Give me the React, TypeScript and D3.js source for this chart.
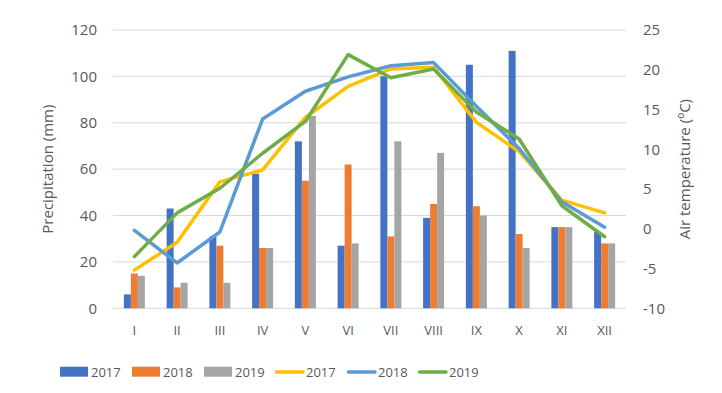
import React from "react";
import * as d3 from "d3";

const months = ["I", "II", "III", "IV", "V", "VI", "VII", "VIII", "IX", "X", "XI", "XII"];
const years = ["2017", "2018", "2019"];

// precipitation (mm)
const precip2017 = [6, 43, 31, 58, 72, 27, 100, 39, 105, 111, 35, 33];
const precip2018 = [15, 9, 27, 26, 55, 62, 31, 45, 44, 32, 35, 28];
const precip2019 = [14, 11, 11, 26, 83, 28, 72, 67, 40, 26, 35, 28];

// air temperature (°C)
const temp2017 = [-5.2, -1.7, 5.9, 7.4, 14, 17.9, 20.1, 20.3, 13.4, 9.7, 3.6, 2.0];
const temp2018 = [-0.2, -4.3, -0.4, 13.8, 17.3, 19.1, 20.5, 20.9, 15.4, 10.1, 3.4, 0.2];
const temp2019 = [-3.5, 2.0, 5.1, 9.5, 13.5, 21.9, 19.0, 20.1, 14.7, 11.3, 2.9, -1.0];

const precipTicks = [0, 20, 40, 60, 80, 100, 120];
const tempTicks = [-10, -5, 0, 5, 10, 15, 20, 25];

const barColors = ["#4472C4", "#ED7D31", "#A5A5A5"];
const lineColors = ["#FFC000", "#5B9BD5", "#70AD47"];

const W = 722;
const H = 393;
const left = 113;
const right = 626;
const top = 30;
const bottom = 308.3;
const font = "Open Sans, sans-serif";
const textColor = "#595959";

export default function App() {
  const x = d3.scaleBand<string>().domain(months).range([left, right]);
  const inner = d3.scaleBand<string>().domain(years).range([0, 21]);
  const yP = d3.scaleLinear().domain([0, 120]).range([bottom, top]);
  const yT = d3.scaleLinear().domain([-10, 25]).range([bottom, top]);

  const precip = [precip2017, precip2018, precip2019];
  const temps = [temp2017, temp2018, temp2019];
  const line = d3
    .line<number>()
    .x((_, i) => (x(months[i]) as number) + x.bandwidth() / 2)
    .y((d) => yT(d));

  const legendItems = [
    { kind: "bar", color: barColors[0], label: "2017", x: 60 },
    { kind: "bar", color: barColors[1], label: "2018", x: 132 },
    { kind: "bar", color: barColors[2], label: "2019", x: 204 },
    { kind: "line", color: lineColors[0], label: "2017", x: 275 },
    { kind: "line", color: lineColors[1], label: "2018", x: 347 },
    { kind: "line", color: lineColors[2], label: "2019", x: 418 },
  ];

  return (
    <svg
      width={W}
      height={H}
      style={{ position: "absolute", left: 0, top: 0, background: "#fff" }}
      fontFamily={font}
    >
      {precipTicks.map((t) => (
        <g key={t}>
          <line x1={left} x2={right} y1={yP(t)} y2={yP(t)} stroke="#D9D9D9" strokeWidth={1} />
          <text x={97} y={yP(t)} dy="0.35em" textAnchor="end" fontSize={15} fill={textColor}>
            {t}
          </text>
        </g>
      ))}
      {tempTicks.map((t) => (
        <text key={t} x={643} y={yT(t)} dy="0.35em" fontSize={15} fill={textColor}>
          {t}
        </text>
      ))}

      {months.map((m, i) => {
        const gx = (x(m) as number) + x.bandwidth() / 2 - 10.5;
        return (
          <g key={m}>
            {years.map((yr, k) => (
              <rect
                key={yr}
                x={gx + (inner(yr) as number)}
                y={yP(precip[k][i])}
                width={inner.bandwidth()}
                height={bottom - yP(precip[k][i])}
                fill={barColors[k]}
              />
            ))}
            <text
              x={(x(m) as number) + x.bandwidth() / 2}
              y={330.5}
              dy="0.35em"
              textAnchor="middle"
              fontSize={13}
              fill={textColor}
            >
              {m}
            </text>
          </g>
        );
      })}

      {temps.map((s, k) => (
        <path
          key={k}
          d={line(s) || ""}
          fill="none"
          stroke={lineColors[k]}
          strokeWidth={3.5}
          strokeLinejoin="round"
          strokeLinecap="round"
        />
      ))}

      <text
        transform={`translate(53,${(top + bottom) / 2}) rotate(-90)`}
        textAnchor="middle"
        fontSize={15}
        fill={textColor}
      >
        Precipitation (mm)
      </text>
      <text
        transform={`translate(690,${(top + bottom) / 2}) rotate(-90)`}
        textAnchor="middle"
        fontSize={15}
        fill={textColor}
      >
        Air temperature (
        <tspan fontSize={10} dy={-6}>
          o
        </tspan>
        <tspan dy={6}>C)</tspan>
      </text>

      {legendItems.map((d, i) => (
        <g key={i}>
          {d.kind === "bar" ? (
            <rect x={d.x} y={366.7} width={28} height={10} fill={d.color} />
          ) : (
            <line
              x1={d.x + 1.5}
              x2={d.x + 28}
              y1={372}
              y2={372}
              stroke={d.color}
              strokeWidth={3.5}
              strokeLinecap="round"
            />
          )}
          <text x={d.x + 31} y={372} dy="0.35em" fontSize={13} fill={textColor}>
            {d.label}
          </text>
        </g>
      ))}
    </svg>
  );
}
